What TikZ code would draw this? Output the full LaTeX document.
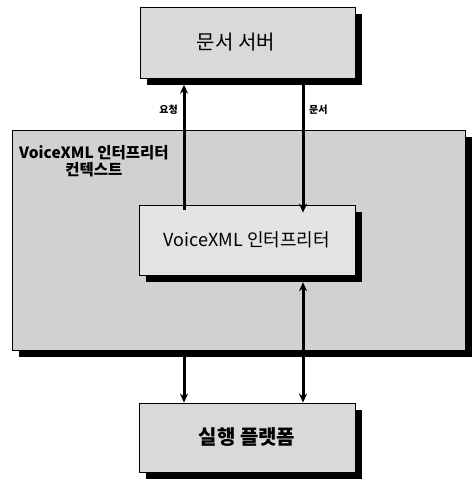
\documentclass[tikz,border=0pt]{standalone}
\usepackage{fontspec}
\setmainfont{Noto Sans CJK KR}
\usetikzlibrary{arrows.meta}
\begin{document}
\begin{tikzpicture}[x=1pt,y=-1pt,
  boxstyle/.style={draw=black,line width=0.8pt,fill=gray!30,inner sep=0pt},
  shadowbox/.style={fill=black,draw=none,inner sep=0pt},
  conn/.style={line width=3pt,-{Stealth[length=9pt,width=8pt]}},
  dconn/.style={line width=3pt,{Stealth[length=9pt,width=8pt]}-{Stealth[length=9pt,width=8pt]}},
  lbl/.style={font=\fontsize{10}{12}\selectfont\bfseries,inner sep=1pt}]
\useasboundingbox[fill=white] (0,0) rectangle (472,480);
% context box
\node[shadowbox,minimum width=453pt,minimum height=220pt] (ctxsh) at (245,247) {};
\node[boxstyle,minimum width=453pt,minimum height=220pt,fill=gray!36] (ctx) at (238.5,240) {};
% top box
\node[shadowbox,minimum width=215pt,minimum height=71pt] (topsh) at (254,49) {};
\node[boxstyle,minimum width=215pt,minimum height=71pt] (top) at (247.5,42.5) {};
\node[font=\fontsize{20}{24}\selectfont,inner sep=0pt] (toptxt) at (236,42.5) {문서 서버};
% middle box
\node[shadowbox,minimum width=216pt,minimum height=70pt] (midsh) at (254,247) {};
\node[boxstyle,minimum width=216pt,minimum height=70pt,fill=gray!22] (mid) at (247,240) {\fontsize{18}{22}\selectfont VoiceXML 인터프리터};
% bottom box
\node[shadowbox,minimum width=216pt,minimum height=69pt] (botsh) at (254,444) {};
\node[boxstyle,minimum width=216pt,minimum height=69pt] (bot) at (247,437.5) {\fontsize{20}{24}\selectfont\bfseries 실행 플랫폼};
\node[font=\fontsize{15.5}{17}\selectfont\bfseries,align=center,inner sep=0pt,anchor=north west] (ctxlbl) at (19,145) {VoiceXML 인터프리터\\컨텍스트};
\coordinate (lx) at (184,0);
\coordinate (rx) at (303,0);
\draw[conn] ([yshift=-5pt]mid.north -| lx) -- (topsh.south -| lx);
\draw[conn] (topsh.south -| rx) -- ([yshift=-8pt]mid.north -| rx);
\draw[dconn] (midsh.south -| rx) -- (bot.north -| rx);
\draw[conn] (ctxsh.south -| lx) -- (bot.north -| lx);
\node[lbl,anchor=east] (req) at (179,110) {요청};
\node[lbl,anchor=west] (doc) at (308,110) {문서};
\end{tikzpicture}
\end{document}
